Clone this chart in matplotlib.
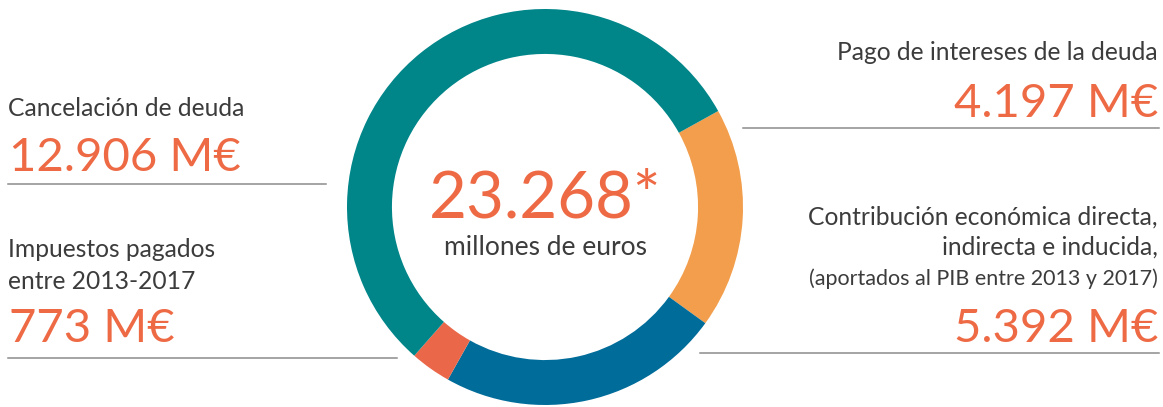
import matplotlib.pyplot as plt

# segment order, clockwise from the top-right
categories = ["Pago de intereses de la deuda", "Contribución económica", "Impuestos pagados", "Cancelación de deuda"]
values = [4197, 5392, 773, 12906]
colors = ["#F29E4C", "#006C9A", "#EA6849", "#008589"]

W, H = 1163, 407
NUM = "#EE6A45"
GREY = "#3C3C3C"
LINE = "#8C8C8C"
LBL = 17.7   # label size
VAL = 34     # value size

plt.rcParams['font.family'] = ['Lato', 'DejaVu Sans']


def fmt(v):
    return f"{v:,}".replace(",", ".")


fig = plt.figure(figsize=(W / 100, H / 100), dpi=100)

# donut
cx, cy, r = 545, 207, 198
ax = fig.add_axes([(cx - r) / W, (H - cy - r) / H, 2 * r / W, 2 * r / H])
ax.pie(values, colors=colors, startangle=29, counterclock=False, radius=1,
       wedgeprops=dict(width=0.227, linewidth=0))
ax.set_xlim(-1, 1)
ax.set_ylim(-1, 1)
ax.set_aspect('equal')
ax.axis('off')

# overlay in pixel coords for text and rules
ov = fig.add_axes([0, 0, 1, 1], zorder=-1)
ov.set_xlim(0, W)
ov.set_ylim(H, 0)
ov.axis('off')
tx = fig.add_axes([0, 0, 1, 1], zorder=5)
tx.set_xlim(0, W)
tx.set_ylim(H, 0)
tx.axis('off')
tx.patch.set_alpha(0)

total = sum(values)
tx.text(cx, 217, fmt(total) + "*", color=NUM, fontsize=47, ha='center', va='baseline')
tx.text(cx, 255, "millones de euros", color=GREY, fontsize=19, ha='center', va='baseline')

# left column
tx.text(8, 116, categories[3], color=GREY, fontsize=LBL, va='baseline')
tx.text(9, 171, fmt(values[3]) + " M€", color=NUM, fontsize=VAL, va='baseline')
ov.plot([8, 326], [184, 184], color=LINE, lw=1.1)

tx.text(8, 257, "Impuestos pagados", color=GREY, fontsize=LBL, va='baseline')
tx.text(8, 289, "entre 2013-2017", color=GREY, fontsize=LBL, va='baseline')
tx.text(9, 342, fmt(values[2]) + " M€", color=NUM, fontsize=VAL, va='baseline')
ov.plot([8, 397], [358, 358], color=LINE, lw=1.1)

# right column
xr = 1158
tx.text(xr, 60, categories[0], color=GREY, fontsize=LBL, ha='right', va='baseline')
tx.text(xr, 117, fmt(values[0]) + " M€", color=NUM, fontsize=VAL, ha='right', va='baseline')
ov.plot([743, 1159], [128, 128], color=LINE, lw=1.1)

tx.text(xr, 225, "Contribución económica directa,", color=GREY, fontsize=LBL, ha='right', va='baseline')
tx.text(xr, 255, "indirecta e inducida,", color=GREY, fontsize=LBL, ha='right', va='baseline')
tx.text(xr, 285, "(aportados al PIB entre 2013 y 2017)", color=GREY, fontsize=15.5, ha='right', va='baseline')
tx.text(xr, 342, fmt(values[1]) + " M€", color=NUM, fontsize=VAL, ha='right', va='baseline')
ov.plot([700, 1159], [353, 353], color=LINE, lw=1.1)

fig.savefig("out.png", dpi=100)
